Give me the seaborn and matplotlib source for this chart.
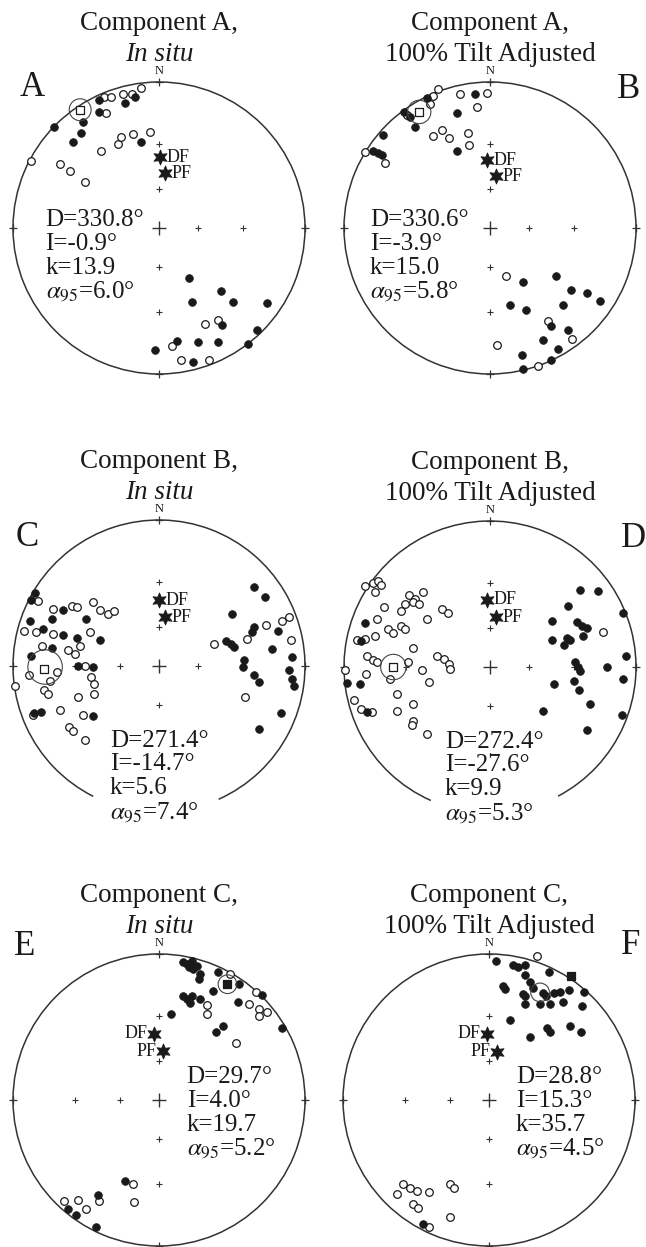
import numpy as np
import pandas as pd
import matplotlib
matplotlib.use("Agg")
import matplotlib.pyplot as plt
from matplotlib.patches import Arc, Circle
import seaborn as sns

# Stereonet data, read off the figure as projected (east, north) positions
# on the unit circle. Filled = lower hemisphere, open = upper hemisphere.

# --- Component A, in situ
A_FILLED = [(-0.414, 0.874), (-0.230, 0.857), (-0.161, 0.897), (-0.409, 0.793),
            (-0.520, 0.729), (-0.720, 0.690), (-0.536, 0.651), (-0.589, 0.591),
            (-0.122, 0.591), (0.207, -0.340), (0.423, -0.432), (0.223, -0.506),
            (0.510, -0.506), (0.740, -0.513), (0.430, -0.667), (0.671, -0.701),
            (0.126, -0.775), (0.269, -0.782), (0.407, -0.782), (0.607, -0.793),
            (-0.030, -0.839), (0.230, -0.915)]
A_OPEN = [(-0.375, 0.897), (-0.329, 0.897), (-0.244, 0.920), (-0.184, 0.920),
          (-0.122, 0.959), (-0.363, 0.789), (-0.398, 0.529), (-0.283, 0.575),
          (-0.260, 0.621), (-0.179, 0.644), (-0.064, 0.660), (-0.874, 0.460),
          (-0.680, 0.437), (-0.609, 0.391), (-0.506, 0.315), (0.315, -0.660),
          (0.407, -0.628), (0.090, -0.805), (0.149, -0.901), (0.345, -0.903)]

# --- Component A, tilt adjusted
B_FILLED = [(-0.434, 0.888), (-0.589, 0.792), (-0.514, 0.692), (-0.545, 0.760),
            (-0.731, 0.639), (-0.799, 0.525), (-0.767, 0.514), (-0.742, 0.502),
            (-0.103, 0.920), (-0.228, 0.788), (-0.224, 0.525), (0.228, -0.372),
            (0.452, -0.326), (0.553, -0.422), (0.662, -0.445), (0.753, -0.502),
            (0.137, -0.530), (0.244, -0.564), (0.498, -0.530), (0.418, -0.669),
            (0.532, -0.696), (0.361, -0.765), (0.468, -0.829), (0.221, -0.868),
            (0.416, -0.906), (0.228, -0.966)]
B_OPEN = [(-0.354, 0.952), (-0.388, 0.902), (-0.411, 0.852), (-0.566, 0.776),
          (-0.856, 0.518), (-0.719, 0.445), (-0.205, 0.918), (-0.023, 0.925),
          (-0.091, 0.829), (-0.388, 0.628), (-0.331, 0.674), (-0.279, 0.616),
          (-0.148, 0.651), (-0.142, 0.571), (0.110, -0.326), (0.395, -0.639),
          (0.050, -0.799), (0.564, -0.758), (0.331, -0.943)]

# --- Component B, in situ
C_FILLED = [(-0.848, 0.498), (-0.877, 0.452), (-0.655, 0.384), (-0.734, 0.323),
            (-0.886, 0.307), (-0.795, 0.255), (-0.500, 0.323), (-0.659, 0.209),
            (-0.564, 0.193), (-0.734, 0.125), (-0.405, 0.180), (-0.877, 0.066),
            (-0.552, -0.002), (-0.450, -0.007), (-0.859, -0.320), (-0.809, -0.314),
            (-0.455, -0.343), (0.652, 0.543), (0.727, 0.475), (0.500, 0.357),
            (0.652, 0.266), (0.636, 0.232), (0.818, 0.239), (0.459, 0.170),
            (0.493, 0.152), (0.516, 0.130), (0.773, 0.118), (0.914, 0.061),
            (0.584, 0.039), (0.573, -0.007), (0.652, -0.064), (0.682, -0.109),
            (0.891, -0.030), (0.914, -0.086), (0.925, -0.139), (0.834, -0.320),
            (0.682, -0.434)]
C_OPEN = [(0.891, 0.339), (0.845, 0.307), (0.732, 0.284), (0.902, 0.180),
          (0.600, 0.184), (0.380, 0.152), (0.591, -0.211), (-0.832, 0.443),
          (-0.723, 0.389), (-0.598, 0.414), (-0.564, 0.402), (-0.450, 0.436),
          (-0.405, 0.384), (-0.348, 0.357), (-0.309, 0.377), (-0.927, 0.239),
          (-0.841, 0.232), (-0.727, 0.220), (-0.473, 0.232), (-0.802, 0.134),
          (-0.620, 0.111), (-0.575, 0.084), (-0.541, 0.134), (-0.507, -0.002),
          (-0.468, -0.075), (-0.445, -0.120), (-0.893, -0.064), (-0.700, -0.041),
          (-0.745, -0.102), (-0.984, -0.139), (-0.791, -0.161), (-0.757, -0.189),
          (-0.552, -0.211), (-0.445, -0.195), (-0.677, -0.302), (-0.518, -0.336),
          (-0.864, -0.336), (-0.614, -0.416), (-0.586, -0.443), (-0.507, -0.507)]

# --- Component B, tilt adjusted
D_FILLED = [(-0.856, 0.301), (-0.886, 0.178), (-0.982, -0.110), (-0.890, -0.114),
            (-0.845, -0.308), (0.616, 0.530), (0.740, 0.521), (0.537, 0.416),
            (0.909, 0.370), (0.422, 0.315), (0.594, 0.308), (0.628, 0.279),
            (0.662, 0.269), (0.422, 0.187), (0.525, 0.201), (0.507, 0.148),
            (0.548, 0.183), (0.639, 0.210), (0.582, 0.034), (0.605, 0.000),
            (0.616, -0.027), (0.804, 0.000), (0.932, 0.073), (0.909, -0.080),
            (0.438, -0.114), (0.575, -0.096), (0.612, -0.155), (0.685, -0.251),
            (0.361, -0.301), (0.902, -0.331), (0.662, -0.434)]
D_OPEN = [(-0.856, 0.553), (-0.799, 0.575), (-0.765, 0.589), (-0.788, 0.514),
          (-0.749, 0.559), (-0.553, 0.490), (-0.514, 0.468), (-0.457, 0.514),
          (-0.582, 0.434), (-0.530, 0.445), (-0.484, 0.429), (-0.726, 0.411),
          (-0.612, 0.384), (-0.331, 0.400), (-0.285, 0.370), (-0.429, 0.331),
          (-0.776, 0.331), (-0.696, 0.263), (-0.662, 0.235), (-0.612, 0.279),
          (-0.582, 0.263), (-0.788, 0.210), (-0.913, 0.183), (-0.856, 0.194),
          (-0.530, 0.132), (-0.845, 0.073), (-0.804, 0.050), (-0.772, 0.034),
          (-0.559, 0.034), (-0.365, 0.073), (-0.315, 0.057), (-0.279, 0.023),
          (-0.274, -0.011), (-0.993, -0.018), (-0.849, -0.050), (-0.685, -0.080),
          (-0.468, -0.023), (-0.416, -0.103), (-0.635, -0.187), (-0.932, -0.224),
          (-0.886, -0.285), (-0.811, -0.308), (-0.530, -0.256), (-0.635, -0.301),
          (-0.530, -0.370), (-0.537, -0.400), (-0.434, -0.457), (0.776, 0.240)]

# --- Component C, in situ
E_FILLED = [(0.161, 0.947), (0.189, 0.931), (0.223, 0.954), (0.207, 0.908),
            (0.234, 0.897), (0.257, 0.915), (0.276, 0.828), (0.280, 0.862),
            (0.407, 0.878), (0.372, 0.747), (0.161, 0.713), (0.193, 0.694),
            (0.223, 0.713), (0.212, 0.662), (0.280, 0.690), (0.085, 0.586),
            (0.391, 0.464), (0.441, 0.510), (0.538, 0.671), (0.706, 0.717),
            (0.844, 0.494), (0.545, 0.793), (-0.230, -0.552), (-0.421, -0.648),
            (-0.621, -0.747), (-0.566, -0.786), (-0.432, -0.869)]
E_OPEN = [(0.487, 0.862), (0.667, 0.740), (0.331, 0.648), (0.331, 0.586),
          (0.614, 0.655), (0.683, 0.621), (0.740, 0.602), (0.683, 0.575),
          (0.529, 0.391), (-0.175, -0.575), (-0.168, -0.701), (-0.409, -0.690),
          (-0.651, -0.694), (-0.552, -0.685), (-0.497, -0.747)]

# --- Component C, tilt adjusted
F_FILLED = [(0.048, 0.950), (0.167, 0.927), (0.201, 0.911), (0.247, 0.927),
            (0.247, 0.858), (0.281, 0.805), (0.098, 0.783), (0.110, 0.760),
            (0.414, 0.874), (0.236, 0.728), (0.247, 0.714), (0.304, 0.767),
            (0.373, 0.732), (0.391, 0.709), (0.442, 0.732), (0.487, 0.737),
            (0.545, 0.755), (0.648, 0.737), (0.247, 0.659), (0.346, 0.659),
            (0.419, 0.659), (0.506, 0.668), (0.636, 0.641), (0.144, 0.549),
            (0.281, 0.430), (0.396, 0.492), (0.419, 0.469), (0.556, 0.508),
            (0.629, 0.469), (-0.451, -0.847)]
F_OPEN = [(0.332, 0.989), (-0.268, -0.572), (-0.240, -0.600), (-0.588, -0.572),
          (-0.629, -0.641), (-0.538, -0.606), (-0.492, -0.622), (-0.410, -0.629),
          (-0.519, -0.709), (-0.485, -0.737), (-0.268, -0.801), (-0.410, -0.870)]

# mean direction (square) and alpha95 circle centre / radius
MEAN_SQUARE = {"A": (-0.540, 0.810), "B": (-0.485, 0.795), "C": (-0.791, -0.018),
               "D": (-0.662, 0.000), "E": (0.469, 0.793), "F": (0.561, 0.851)}
MEAN_FILLED = {"A": False, "B": False, "C": False, "D": False, "E": True, "F": True}
A95_CIRCLE = {"A": (-0.540, 0.810, 0.075), "B": (-0.485, 0.795, 0.080),
              "C": (-0.780, -0.007, 0.118), "D": (-0.662, 0.000, 0.087),
              "E": (0.469, 0.793, 0.064), "F": (0.350, 0.737, 0.064)}

# fold test reference poles
DF_POS = {"A": (0.005, 0.483), "B": (-0.018, 0.463), "C": (0.000, 0.452),
          "D": (-0.018, 0.461), "E": (-0.037, 0.455), "F": (-0.011, 0.453)}
PF_POS = {"A": (0.039, 0.375), "B": (0.041, 0.354), "C": (0.039, 0.334),
          "D": (0.041, 0.342), "E": (0.028, 0.333), "F": (0.053, 0.332)}

TITLES = {"A": ("Component A,", "In situ"), "B": ("Component A,", "100% Tilt Adjusted"),
          "C": ("Component B,", "In situ"), "D": ("Component B,", "100% Tilt Adjusted"),
          "E": ("Component C,", "In situ"), "F": ("Component C,", "100% Tilt Adjusted")}
STATS = {"A": ("330.8", "-0.9", "13.9", "6.0"), "B": ("330.6", "-3.9", "15.0", "5.8"),
         "C": ("271.4", "-14.7", "5.6", "7.4"), "D": ("272.4", "-27.6", "9.9", "5.3"),
         "E": ("29.7", "4.0", "19.7", "5.2"), "F": ("28.8", "15.3", "35.7", "4.5")}

# grid crosses (equal-angle 60 and 30 degree inclination)
CROSS_R = [0.268, 0.577]

# ---- layout (pixels in a 646 x 1247 canvas)
W, H = 646, 1247
R_PX = 146
CENTERS = {"A": (159, 228), "B": (490, 228), "C": (159, 666),
           "D": (490, 667), "E": (159, 1100), "F": (489, 1100)}
LETTER_POS = {"A": (-0.87, 0.96), "B": (0.95, 0.95), "C": (-0.90, 0.88),
              "D": (0.98, 0.88), "E": (-0.92, 1.05), "F": (0.97, 1.06)}
STATS_POS = {"A": (-0.777, 0.011), "B": (-0.822, 0.011), "C": (-0.336, -0.552),
             "D": (-0.308, -0.552), "E": (0.189, 0.115), "F": (0.185, 0.114)}
ARC_GAP = {"C": (243.2, 294.1), "D": (246.1, 297.8)}

INK = "#1a1a1a"

sns.set_style("white")
plt.rcParams["font.family"] = ["Liberation Serif", "DejaVu Serif"]
plt.rcParams["mathtext.fontset"] = "stix"


def scatter(ax, pts, filled, **kw):
    df = pd.DataFrame(pts, columns=["x", "y"])
    if filled:
        sns.scatterplot(data=df, x="x", y="y", ax=ax, color=INK, edgecolor=INK,
                        linewidth=0.6, legend=False, **kw)
    else:
        sns.scatterplot(data=df, x="x", y="y", ax=ax, color="white", edgecolor=INK,
                        linewidth=0.9, legend=False, **kw)


def draw_panel(fig, key, filled, opened):
    cx, cy = CENTERS[key]
    k = 1.12
    ax = fig.add_axes([(cx - k * R_PX) / W, (H - cy - k * R_PX) / H,
                       2 * k * R_PX / W, 2 * k * R_PX / H])

    # primitive circle (with a gap for the stats text on some panels)
    if key in ARC_GAP:
        g0, g1 = ARC_GAP[key]
        ax.add_patch(Arc((0, 0), 2, 2, theta1=g1, theta2=g0 + 360,
                         color="#333333", lw=1.1, zorder=2))
    else:
        ax.add_patch(Arc((0, 0), 2, 2, theta1=0, theta2=360,
                         color="#333333", lw=1.1, zorder=2))

    # ticks and crosses
    edge = pd.DataFrame({"x": [0, 1, 0, -1], "y": [1, 0, -1, 0]})
    sns.scatterplot(data=edge, x="x", y="y", ax=ax, marker="+", s=40,
                    color="#333333", linewidth=0.9, legend=False, zorder=3)
    xs, ys = [], []
    for r in CROSS_R:
        xs += [0, 0, r, -r]
        ys += [r, -r, 0, 0]
    grid = pd.DataFrame({"x": xs, "y": ys})
    sns.scatterplot(data=grid, x="x", y="y", ax=ax, marker="+", s=14,
                    color="#333333", linewidth=0.8, legend=False, zorder=3)
    sns.scatterplot(x=[0], y=[0], ax=ax, marker="+", s=90, color="#333333",
                    linewidth=1.0, legend=False, zorder=3)

    # data
    scatter(ax, opened, False, s=30, zorder=5)
    scatter(ax, filled, True, s=30, zorder=6)

    # mean and alpha95
    ax0, ay0, ar = A95_CIRCLE[key]
    ax.add_patch(Circle((ax0, ay0), ar, fill=False, ec="#444444", lw=0.8, zorder=7))
    mx, my = MEAN_SQUARE[key]
    sns.scatterplot(x=[mx], y=[my], ax=ax, marker="s", s=38,
                    color=INK if MEAN_FILLED[key] else "white", edgecolor=INK,
                    linewidth=0.9, legend=False, zorder=8)

    # DF / PF stars
    for lab, pos in (("DF", DF_POS[key]), ("PF", PF_POS[key])):
        sns.scatterplot(x=[pos[0]], y=[pos[1]], ax=ax, marker=(6, 1, 0), s=120,
                        color=INK, edgecolor=INK, linewidth=0.5, legend=False, zorder=6)
        if key in ("E", "F"):
            ax.text(pos[0] - 0.045, pos[1], lab, ha="right", va="center",
                    fontsize=13, color=INK)
        else:
            ax.text(pos[0] + 0.045, pos[1], lab, ha="left", va="center",
                    fontsize=13, color=INK)

    # statistics
    d, inc, kap, a95 = STATS[key]
    sx, sy = STATS_POS[key]
    lines = ["D=" + d + "°", "I=" + inc + "°", "k=" + kap, r"$\alpha_{95}$=" + a95 + "°"]
    for i, line in enumerate(lines):
        ax.text(sx, sy - 0.163 * i, line, ha="left", va="baseline", fontsize=18,
                color=INK, zorder=4,
                bbox=dict(facecolor="white", edgecolor="none", pad=0.5))

    # titles, north label and panel letter
    t1, t2 = TITLES[key]
    ax.text(0, 1.40, t1, ha="center", va="center", fontsize=19.5, color=INK)
    ax.text(0, 1.19, t2, ha="center", va="center", fontsize=19.5, color=INK,
            fontstyle="italic" if t2 == "In situ" else "normal")
    ax.text(0, 1.075, "N", ha="center", va="center", fontsize=9, color=INK)
    lx, ly = LETTER_POS[key]
    ax.text(lx, ly, key, ha="center", va="center", fontsize=25, color=INK)

    ax.set_xlim(-k, k)
    ax.set_ylim(-k, k)
    ax.set_axis_off()
    return ax


fig = plt.figure(figsize=(W / 100, H / 100), dpi=100)
draw_panel(fig, "A", A_FILLED, A_OPEN)
draw_panel(fig, "B", B_FILLED, B_OPEN)
draw_panel(fig, "C", C_FILLED, C_OPEN)
draw_panel(fig, "D", D_FILLED, D_OPEN)
draw_panel(fig, "E", E_FILLED, E_OPEN)
draw_panel(fig, "F", F_FILLED, F_OPEN)
fig.savefig("out.png", dpi=100)
